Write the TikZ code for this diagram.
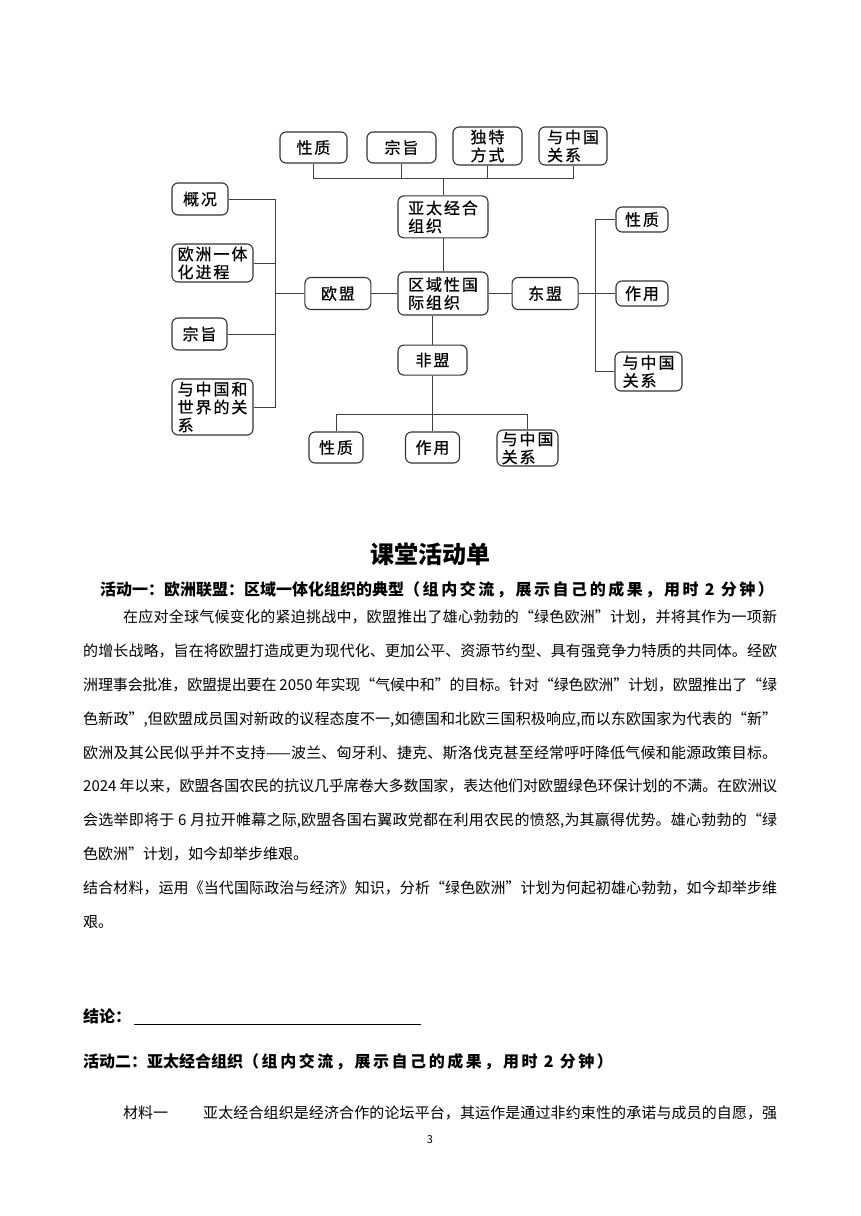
\documentclass[tikz,border=0pt]{standalone}
\usepackage{fontspec}
\usepackage{tikz}
\usetikzlibrary{positioning,calc}
\setmainfont{Noto Sans CJK SC}
\newfontfamily\cjk{Noto Sans CJK SC}
\newfontfamily\cjkbox[LetterSpace=12,FakeBold=0.6]{Noto Sans CJK SC}
\newfontfamily\cjkspaced[LetterSpace=16]{Noto Sans CJK SC}
\XeTeXlinebreaklocale "zh"
\XeTeXlinebreakskip=0pt plus 1pt minus 0.4pt
\tikzset{
  box/.style  ={draw=black!80,line width=1.1pt,rounded corners=6pt,align=left,
                inner xsep=4pt,inner ysep=1pt,font=\cjkbox\fontsize{16}{18}\selectfont},
  link/.style ={draw=black!75,line width=1pt},
  txt/.style  ={inner sep=0pt,anchor=west,font=\cjk\fontsize{15}{15}\selectfont},
  hd/.style   ={txt,font=\cjk\bfseries\fontsize{16}{16}\selectfont},
  para/.style ={txt,anchor=north west,align=justify,font=\cjk\fontsize{15}{33.9}\selectfont},
}
\newcommand{\fl}[1]{{\parfillskip=0pt #1\par}}
\newcommand{\paren}{{\cjkspaced（组内交流，展示自己的成果，用时 2 分钟）}}

\begin{document}
\begin{tikzpicture}[x=1pt,y=-1pt]
  \path[fill=white] (0,0) rectangle (860,1216);
  % centre of the map
  \node[box,minimum width=90pt,minimum height=43pt] (root) at (443,293.5) {区域性国\\际组织};
  \node[box,minimum width=90pt,minimum height=42pt,above=33pt of root] (apec) {亚太经合\\组织};
  \node[box,minimum width=66pt,minimum height=32pt,left=26pt of root] (eu) {欧盟};
  \node[box,minimum width=66pt,minimum height=32pt,right=23pt of root] (asean) {东盟};
  \node[box,minimum width=69pt,minimum height=30pt,anchor=north west,
        below right=29pt and 0pt of root.south west] (au) {非盟};
  % APEC branch
  \node[box,minimum width=67pt,minimum height=31pt] (t1) at (313.5,147.5) {性质};
  \node[box,minimum width=69pt,minimum height=31pt] (t2) at (401.5,147.5) {宗旨};
  \node[box,minimum width=69pt,minimum height=38pt] (t3) at (487.5,146) {独特\\方式};
  \node[box,minimum width=68pt,minimum height=38pt] (t4) at (573,146) {与中国\\关系};
  % EU branch
  \node[box,minimum width=56pt,minimum height=32pt] (l1) at (200,199) {概况};
  \node[box,minimum width=81pt,minimum height=38pt] (l2) at (212.5,263) {欧洲一体\\化进程};
  \node[box,minimum width=55pt,minimum height=32pt] (l3) at (199.5,334) {宗旨};
  \node[box,minimum width=81pt,minimum height=56pt] (l4) at (212.5,407) {与中国和\\世界的关\\系};
  % ASEAN branch
  \node[box,minimum width=52pt,minimum height=25pt] (r1) at (642,219.5) {性质};
  \node[box,minimum width=52pt,minimum height=25pt] (r2) at (642,293.5) {作用};
  \node[box,minimum width=67pt,minimum height=39pt] (r3) at (648.5,371.5) {与中国\\关系};
  % AU branch
  \node[box,minimum width=54pt,minimum height=31pt] (b1) at (336,447.5) {性质};
  \node[box,minimum width=54pt,minimum height=31pt] (b2) at (432.5,447.5) {作用};
  \node[box,minimum width=61pt,minimum height=36pt] (b3) at (527.5,448) {与中国\\关系};

  \coordinate (tbus) at (0,178);
  \coordinate (lbus) at (275,0);
  \coordinate (rbus) at (595,0);
  \coordinate (bbus) at (0,414);
  \draw[link] (t1.south) |- (t4.south |- tbus) -- (t4.south);
  \foreach \n in {t2.south,t3.south,apec.north}
    \draw[link] (\n) -- (\n |- tbus);
  \draw[link] (l1.east) -| (lbus |- l4.east) -- (l4.east);
  \foreach \n in {l2.east,l3.east,eu.west}
    \draw[link] (\n) -- (lbus |- \n);
  \draw[link] (r1.west) -| (rbus |- r3.west) -- (r3.west);
  \draw[link] (asean.east) -- (r2.west);
  \draw[link] (b1.north) |- (b3.north |- bbus) -- (b3.north);
  \draw[link] (au.south) -- (b2.north);
  \draw[link] (eu.east) -- (root.west);
  \draw[link] (root.east) -- (asean.west);
  \draw[link] (apec.south) -- (root.north);
  \draw[link] (au.north) -- (au.north |- root.south);

  % activity sheet
  \node[inner sep=0pt,font=\cjk\bfseries\fontsize{24}{24}\selectfont] (title) at (430,554) {课堂活动单};
  \node[hd] (act1) at (100,590) {活动一：欧洲联盟：区域一体化组织的典型\paren};
  \node[para,text width=694pt] (mat1) at (83,609.5) {%
    \fl{\hspace*{40pt}在应对全球气候变化的紧迫挑战中，欧盟推出了雄心勃勃的“绿色欧洲”计划，并将其作为一项新}
    \fl{的增长战略，旨在将欧盟打造成更为现代化、更加公平、资源节约型、具有强竞争力特质的共同体。经欧}
    \fl{洲理事会批准，欧盟提出要在 2050 年实现“气候中和”的目标。针对“绿色欧洲”计划，欧盟推出了“绿}
    \fl{色新政”,但欧盟成员国对新政的议程态度不一,如德国和北欧三国积极响应,而以东欧国家为代表的“新”}
    \fl{欧洲及其公民似乎并不支持——波兰、匈牙利、捷克、斯洛伐克甚至经常呼吁降低气候和能源政策目标。}
    \fl{2024 年以来，欧盟各国农民的抗议几乎席卷大多数国家，表达他们对欧盟绿色环保计划的不满。在欧洲议}
    \fl{会选举即将于 6 月拉开帷幕之际,欧盟各国右翼政党都在利用农民的愤怒,为其赢得优势。雄心勃勃的“绿}
    色欧洲”计划，如今却举步维艰。\par
    \fl{结合材料，运用《当代国际政治与经济》知识，分析“绿色欧洲”计划为何起初雄心勃勃，如今却举步维}
    艰。\par};
  \node[hd] (concl) at (83,1017) {结论：\hspace{3pt}\rule[-2pt]{287pt}{0.8pt}};
  \node[hd] (act2) at (83,1062) {活动二：亚太经合组织\paren};
  \node[txt] (m1) at (123,1113) {材料一};
  \node[txt,text width=574pt,align=justify] (m1text) at (203,1113)
    {\fl{亚太经合组织是经济合作的论坛平台，其运作是通过非约束性的承诺与成员的自愿，强}};
  \node[inner sep=0pt,font=\cjk\fontsize{11}{11}\selectfont] (page) at (430,1140) {3};
\end{tikzpicture}
\end{document}
